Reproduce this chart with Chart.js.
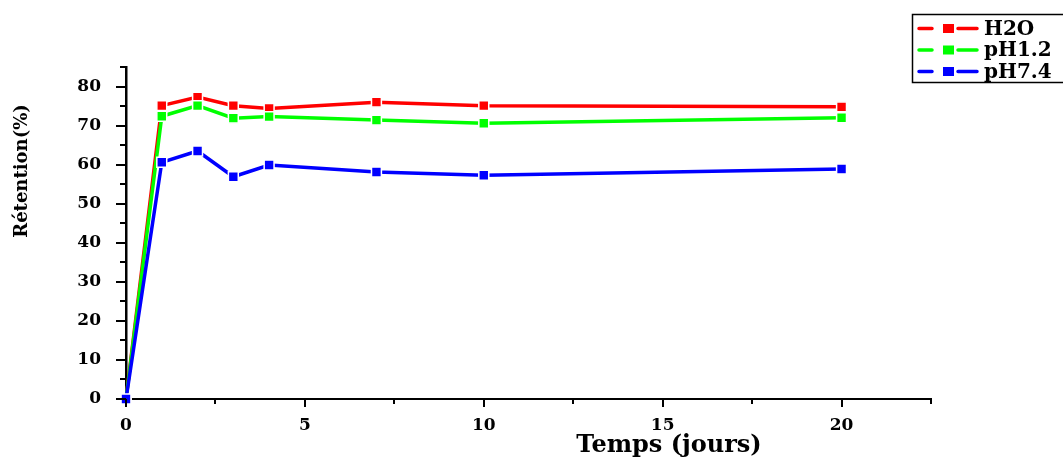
<!DOCTYPE html>
<html>
<head>
<meta charset="utf-8">
<script src="https://cdn.jsdelivr.net/npm/chart.js@4.4.1/dist/chart.umd.min.js"></script>
<style>
  html, body { margin: 0; padding: 0; background: #fff; }
  #wrap { width: 1063px; height: 460px; position: relative; }
</style>
</head>
<body>
<div id="wrap"><canvas id="retention"></canvas></div>
<script>
// retention values per medium, read at each sampling day
const days = [0, 1, 2, 3, 4, 7, 10, 20];
const h2o  = [0, 75.1, 77.3, 75.1, 74.4, 76.0, 75.1, 74.8];
const ph12 = [0, 72.4, 75.1, 71.9, 72.3, 71.4, 70.6, 72.0];
const ph74 = [0, 60.6, 63.5, 56.9, 59.9, 58.1, 57.3, 58.9];
const seriesNames = ['H2O', 'pH1.2', 'pH7.4'];
const seriesColors = ['#ff0000', '#00ff00', '#0000ff'];
const xTitle = 'Temps (jours)';
const yTitle = 'Rétention(%)';

const serif = '"DejaVu Serif", serif';

function toPoints(values){
    return days.map((d, i) => ({ x: d, y: values[i] }));
}

const datasets = [h2o, ph12, ph74].map((vals, i) => ({
    label: seriesNames[i],
    data: toPoints(vals),
    borderColor: seriesColors[i],
    backgroundColor: seriesColors[i],
    borderWidth: 3.5,
    tension: 0,
    pointStyle: 'rect',
    pointRadius: 7,
    pointBorderWidth: 1.5,
    pointBorderColor: '#fff',
    pointBackgroundColor: seriesColors[i],
    clip: false,
    order: 2 - i
}));

// tick marks, axis titles and the boxed legend
const decorations = {
    id: 'decorations',
    afterDraw(chart){
        const ctx = chart.ctx;
        const xs = chart.scales.x, ys = chart.scales.y;
        const area = chart.chartArea;
        ctx.save();
        ctx.strokeStyle = '#000';
        ctx.lineWidth = 2;
        ctx.beginPath();
        for (let v = 0; v <= 22.5; v += 2.5){
            const px = Math.round(xs.getPixelForValue(v));
            const len = (v % 5 === 0) ? 8 : 5;
            ctx.moveTo(px, area.bottom);
            ctx.lineTo(px, area.bottom + len);
        }
        for (let v = 0; v <= 85; v += 5){
            const py = Math.round(ys.getPixelForValue(v));
            const len = (v % 10 === 0) ? 10 : 6;
            ctx.moveTo(area.left, py);
            ctx.lineTo(area.left - len, py);
        }
        ctx.stroke();

        ctx.fillStyle = '#000';
        ctx.font = 'bold 24px ' + serif;
        ctx.textAlign = 'center';
        ctx.textBaseline = 'middle';
        ctx.fillText(xTitle, 669, 446);

        ctx.save();
        ctx.translate(22, 171);
        ctx.rotate(-Math.PI / 2);
        ctx.font = 'bold 18px ' + serif;
        ctx.fillText(yTitle, 0, 0);
        ctx.restore();

        // legend
        ctx.lineWidth = 1.5;
        ctx.strokeRect(912.5, 14.5, 170, 68);
        ctx.font = 'bold 20px ' + serif;
        ctx.textAlign = 'left';
        chart.data.datasets.forEach((ds, i) => {
            const y = 28.5 + i * 21.5;
            ctx.strokeStyle = ds.borderColor;
            ctx.lineWidth = 3.5;
            ctx.lineCap = 'round';
            ctx.beginPath();
            ctx.moveTo(919, y); ctx.lineTo(932, y);
            ctx.moveTo(958, y); ctx.lineTo(977, y);
            ctx.stroke();
            ctx.fillStyle = ds.borderColor;
            ctx.fillRect(943, y - 4.5, 11, 9);
            ctx.fillStyle = '#000';
            ctx.fillText(ds.label, 984, y + 1);
        });
        ctx.restore();
    }
};

Chart.defaults.color = '#000';
Chart.defaults.font.family = serif;
Chart.defaults.font.weight = 'bold';

const chart = new Chart(document.getElementById('retention'), {
    type: 'line',
    data: { datasets: datasets },
    options: {
        responsive: true,
        maintainAspectRatio: false,
        animation: false,
        layout: { padding: { left: 0, top: 67, right: 132, bottom: 0 } },
        plugins: {
            legend: { display: false },
            tooltip: { enabled: false }
        },
        scales: {
            x: {
                type: 'linear',
                min: 0,
                max: 22.5,
                grid: { display: false },
                border: { display: true, color: '#000', width: 2 },
                ticks: {
                    stepSize: 5,
                    includeBounds: false,
                    padding: 8,
                    font: { size: 17, weight: 'bold' },
                    maxRotation: 0
                },
                afterFit(scale){ scale.height = 61; }
            },
            y: {
                min: 0,
                max: 85,
                grid: { display: false },
                border: { display: true, color: '#000', width: 2.5 },
                ticks: {
                    stepSize: 10,
                    includeBounds: false,
                    padding: 17,
                    font: { size: 17, weight: 'bold' }
                },
                afterFit(scale){ scale.width = 126; }
            }
        }
    },
    plugins: [decorations]
});
</script>
</body>
</html>
